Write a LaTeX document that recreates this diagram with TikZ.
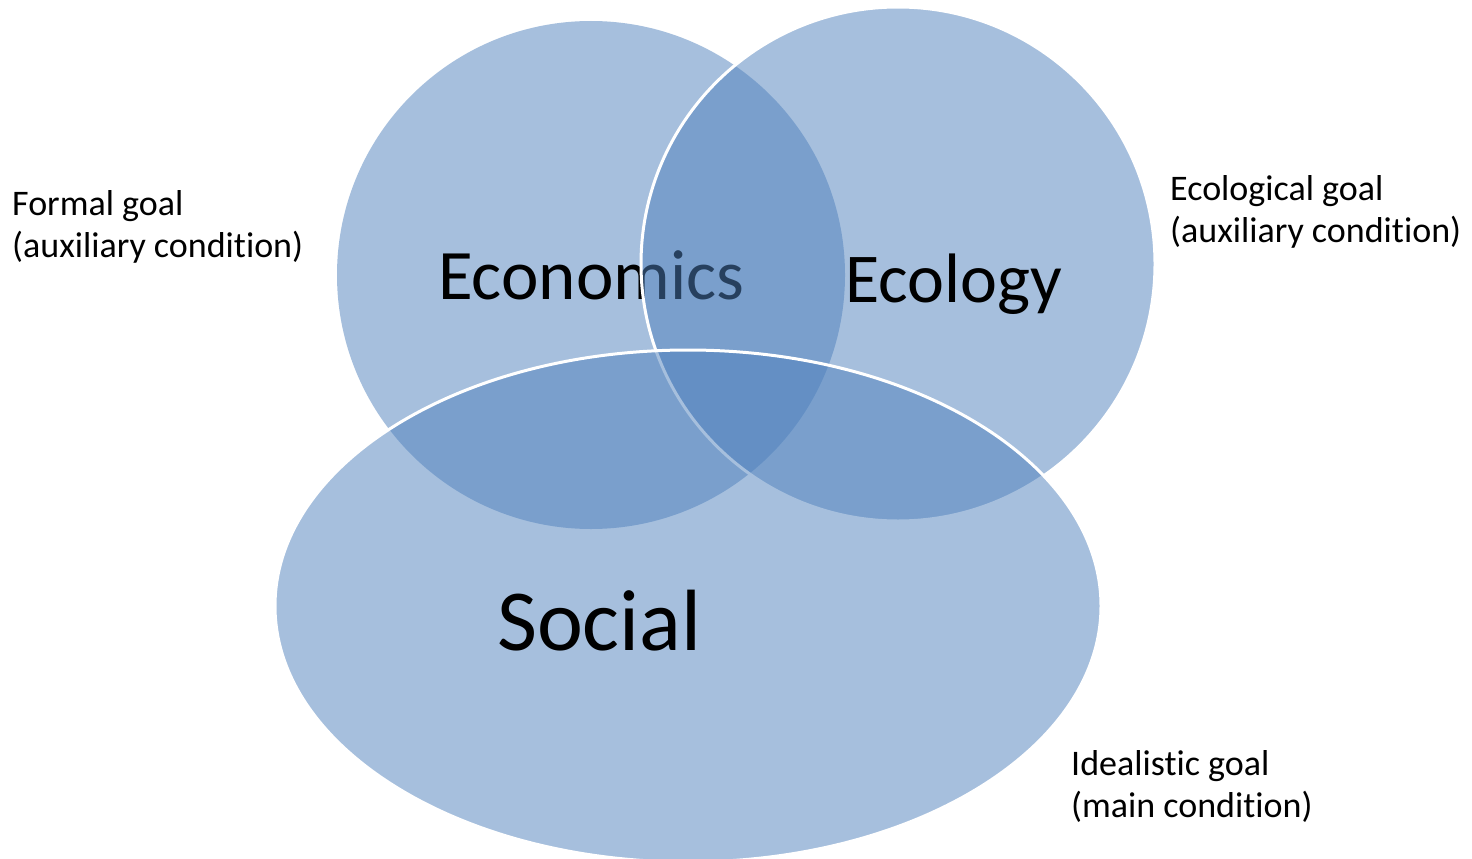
\documentclass[tikz,border=0pt]{standalone}
\usepackage{fontspec}
\setmainfont[Ligatures={NoCommon,NoContextual}]{Carlito}
\definecolor{vennblue}{HTML}{4F81BD}
\begin{document}
\begin{tikzpicture}[x=1pt,y=-1pt,
  setfill/.style={fill=vennblue,fill opacity=0.5},
  setline/.style={draw=white,line width=3pt},
  bigtext/.style={anchor=base west,inner sep=0pt,font=\fontsize{71}{85}\selectfont},
  sidelabel/.style={anchor=base west,inner sep=0pt,align=left,font=\fontsize{36}{42}\selectfont}]
\useasboundingbox[fill=white] (0,0) rectangle (1472,859);
% Economics
\fill[setfill] (591,275) circle[radius=254pt];
\node[bigtext] (econ) at (438,299) {Economics};
% Ecology
\path[setfill,setline] (898,264) circle[radius=257pt];
\node[bigtext,font=\fontsize{70}{84}\selectfont] (ecol) at (845,302) {Ecology};
% Social
\path[setfill,setline] (688,606) ellipse[x radius=413pt,y radius=256pt];
\node[bigtext,font=\fontsize{87}{104}\selectfont] (soc) at (497,650) {Social};
% side labels (anchor is baseline of the last line)
\node[sidelabel] (formal) at (12,257) {Formal goal\\(auxiliary condition)};
\node[sidelabel] (ecogoal) at (1170,242) {Ecological goal\\(auxiliary condition)};
\node[sidelabel] (ideal) at (1071,817) {Idealistic goal\\(main condition)};
\end{tikzpicture}
\end{document}
